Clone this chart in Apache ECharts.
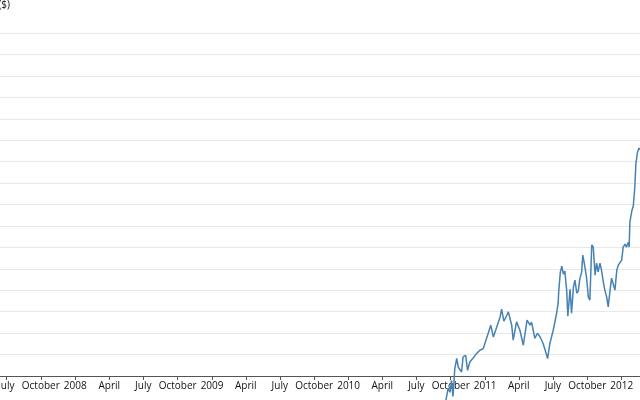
<!DOCTYPE html>
<html>
<head>
<meta charset="utf-8">
<script src="https://cdn.jsdelivr.net/npm/echarts@6/dist/echarts.min.js"></script>
<style>
html,body{margin:0;padding:0;background:#fff;}
#chart{width:640px;height:400px;}
</style>
</head>
<body>
<div id="chart"></div>
<script>
// Dates and prices
var dates = [
 '2010-09-13','2010-09-18','2010-09-24','2010-09-29','2010-10-03','2010-10-07','2010-10-12','2010-10-17',
 '2010-10-21','2010-10-26','2010-10-30','2010-11-03','2010-11-10','2010-11-15','2010-11-21','2010-11-29',
 '2010-12-09','2010-12-18','2010-12-27','2010-12-31','2011-01-09','2011-01-16','2011-01-23','2011-02-01',
 '2011-02-10','2011-02-14','2011-02-20','2011-02-28','2011-03-04','2011-03-13','2011-03-17','2011-03-26',
 '2011-04-04','2011-04-13','2011-04-23','2011-05-01','2011-05-05','2011-05-14','2011-05-21','2011-05-28',
 '2011-06-05','2011-06-12','2011-06-17','2011-06-23','2011-07-02','2011-07-11','2011-07-15','2011-07-17',
 '2011-07-21','2011-07-25','2011-07-29','2011-08-02','2011-08-07','2011-08-10','2011-08-16','2011-08-20',
 '2011-08-25','2011-08-29','2011-09-03','2011-09-07','2011-09-11','2011-09-16','2011-09-19','2011-09-23',
 '2011-09-29','2011-10-04','2011-10-08','2011-10-13','2011-10-17','2011-10-22','2011-10-26','2011-10-30',
 '2011-11-04','2011-11-08','2011-11-13','2011-11-17','2011-11-22','2011-11-26','2011-12-01','2011-12-05',
 '2011-12-09','2011-12-14','2011-12-19','2011-12-23','2011-12-27','2012-01-01','2012-01-05','2012-01-10',
 '2012-01-14','2012-01-19','2012-01-21','2012-01-23','2012-01-28','2012-02-01','2012-02-05','2012-02-08',
 '2012-02-12','2012-02-16','2012-02-18'
];
var prices = [
 266.1,277.3,288.5,284.8,296.0,281.0,307.2,316.5,
 308.4,310.0,303.7,317.8,319.3,305.3,313.1,316.3,
 320.9,324.0,325.6,324.0,339.6,347.4,336.4,345.8,
 355.1,362.3,351.1,356.7,359.8,347.4,333.4,350.5,
 342.7,328.7,352.1,347.4,350.2,335.2,339.9,336.4,
 330.3,322.4,316.3,330.3,342.7,358.3,367.7,380.1,
 396.9,402.5,395.0,397.9,380.1,355.8,381.0,358.6,
 382.9,389.4,377.3,379.2,390.4,396.9,412.8,405.3,
 392.2,373.6,370.7,422.2,420.3,394.1,405.3,397.2,
 405.3,398.8,387.6,380.1,373.6,364.5,380.1,391.3,
 392.2,380.1,398.8,403.5,405.3,408.1,420.3,423.1,
 420.3,425.0,420.3,443.6,453.9,458.6,475.4,497.9,
 508.1,512.8,510.9
];
var tickDates = [
 '2007-07-01','2007-10-01','2008-01-01','2008-04-01','2008-07-01','2008-10-01',
 '2009-01-01','2009-04-01','2009-07-01','2009-10-01','2010-01-01','2010-04-01',
 '2010-07-01','2010-10-01','2011-01-01','2011-04-01','2011-07-01','2011-10-01','2012-01-01'
];
var tickLabels = [
 'July','October','2008','April','July','October',
 '2009','April','July','October','2010','April',
 'July','October','2011','April','July','October','2012'
];
var yTitle = 'Price ($)';

function dayMs(s){
  var p = s.split('-');
  return Date.UTC(+p[0], +p[1]-1, +p[2]);
}
var tickMs = tickDates.map(dayMs);
var seriesData = dates.map(function(d,i){ return [dayMs(d), prices[i]]; });

var chart = echarts.init(document.getElementById('chart'), null, {renderer:'canvas'});
var font = '"Open Sans", "DejaVu Sans", sans-serif';
chart.setOption({
  animation: false,
  backgroundColor: '#fff',
  grid: {left: 0, right: 0, top: 33, bottom: 24, containLabel: false, outerBoundsMode: 'none'},
  xAxis: {
    type: 'value',
    min: dayMs('2007-06-14'),
    max: dayMs('2012-02-19'),
    axisLine: {show: true, lineStyle: {color: '#555', width: 1}},
    axisTick: {show: true, length: 4, customValues: tickMs, lineStyle: {color: '#555'}},
    splitLine: {show: false},
    axisLabel: {
      customValues: tickMs,
      margin: 5,
      fontFamily: font,
      fontSize: 10,
      color: '#111',
      hideOverlap: false,
      showMinLabel: true,
      showMaxLabel: true,
      formatter: function(v){
        for (var i = 0; i < tickMs.length; i++) {
          if (Math.abs(tickMs[i] - v) < 3600000 * 12) return tickLabels[i];
        }
        return '';
      }
    }
  },
  yAxis: {
    type: 'value',
    min: 300, max: 620, interval: 20,
    axisLine: {show: false},
    axisTick: {show: false},
    axisLabel: {show: false},
    splitLine: {show: true, lineStyle: {color: '#e8e8e8', width: 1}}
  },
  graphic: [{
    type: 'text',
    x: 10, y: 5,
    style: {
      text: yTitle,
      fill: '#111',
      font: '10px ' + font,
      textAlign: 'right',
      textVerticalAlign: 'middle'
    }
  }],
  series: [{
    type: 'line',
    data: seriesData,
    showSymbol: false,
    clip: false,
    lineStyle: {color: '#4682b4', width: 1.5},
    itemStyle: {color: '#4682b4'}
  }]
});
</script>
</body>
</html>
